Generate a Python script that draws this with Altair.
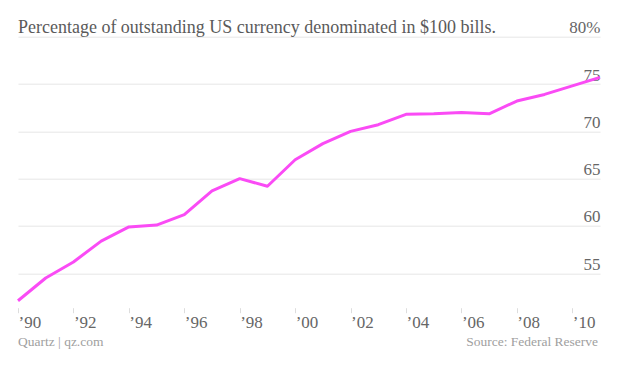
import altair as alt
import pandas as pd

years = list(range(1990, 2012))
share = [52.1, 54.5, 56.2, 58.4, 59.9, 60.1, 61.2, 63.7, 65.0, 64.2, 67.0,
         68.7, 70.0, 70.7, 71.8, 71.85, 72.0, 71.85, 73.2, 73.9, 74.8, 75.7]
x_ticks = list(range(1990, 2011, 2))
y_ticks = [55, 60, 65, 70, 75, 80]
title_text = "Percentage of outstanding US currency denominated in $100 bills."
footer_left = "Quartz | qz.com"
footer_right = "Source: Federal Reserve"

FONT = "Liberation Serif"
W, H = 582, 265

df = pd.DataFrame({"year": years, "share": share})

line = alt.Chart(df).mark_line(color="#fa4bf5", strokeWidth=3, strokeJoin="round").encode(
    x=alt.X("year:Q", scale=alt.Scale(domain=[1990, 2011], nice=False, zero=False),
            axis=alt.Axis(values=x_ticks, title=None, grid=False, domain=False,
                          labelExpr="'\u2019' + substring(toString(datum.value), 2)",
                          labelAlign="left", labelBaseline="alphabetic", labelFlush=False,
                          labelPadding=14.5, offset=6, tickSize=5, tickColor="#dddddd",
                          labelFont=FONT, labelFontSize=17, labelColor="#666666")),
    y=alt.Y("share:Q", scale=alt.Scale(domain=[52, 80], nice=False, zero=False),
            axis=alt.Axis(values=y_ticks, orient="right", title=None, domain=False,
                          ticks=False, tickSize=0, labelPadding=0, labelAlign="right",
                          labelBaseline="alphabetic", labelOffset=-4, labelFlush=False,
                          labelExpr="datum.value == 80 ? '80%' : datum.label",
                          gridColor="#e6e6e6", gridWidth=1,
                          labelFont=FONT, labelFontSize=17, labelColor="#666666")),
)

title_mark = alt.Chart(pd.DataFrame({"t": [title_text]})).mark_text(
    align="left", baseline="alphabetic", font=FONT, fontSize=18, color="#5a5a5a"
).encode(x=alt.value(0), y=alt.value(-3.4), text="t:N")

left_note = alt.Chart(pd.DataFrame({"t": [footer_left]})).mark_text(
    align="left", baseline="alphabetic", font=FONT, fontSize=13.5, color="#a0a0a0"
).encode(x=alt.value(0), y=alt.value(309.3), text="t:N")

right_note = alt.Chart(pd.DataFrame({"t": [footer_right]})).mark_text(
    align="right", baseline="alphabetic", font=FONT, fontSize=13.5, color="#a0a0a0"
).encode(x=alt.value(580), y=alt.value(309.3), text="t:N")

chart = alt.layer(line, title_mark, left_note, right_note).properties(
    width=W, height=H,
    autosize=alt.AutoSizeParams(type="none"),
    padding={"left": 10, "top": 28.7, "right": 20, "bottom": 57},
).configure(background="white").configure_view(strokeOpacity=0, strokeWidth=0)

chart.save("out.html", embed_options={"renderer": "svg", "actions": False})
